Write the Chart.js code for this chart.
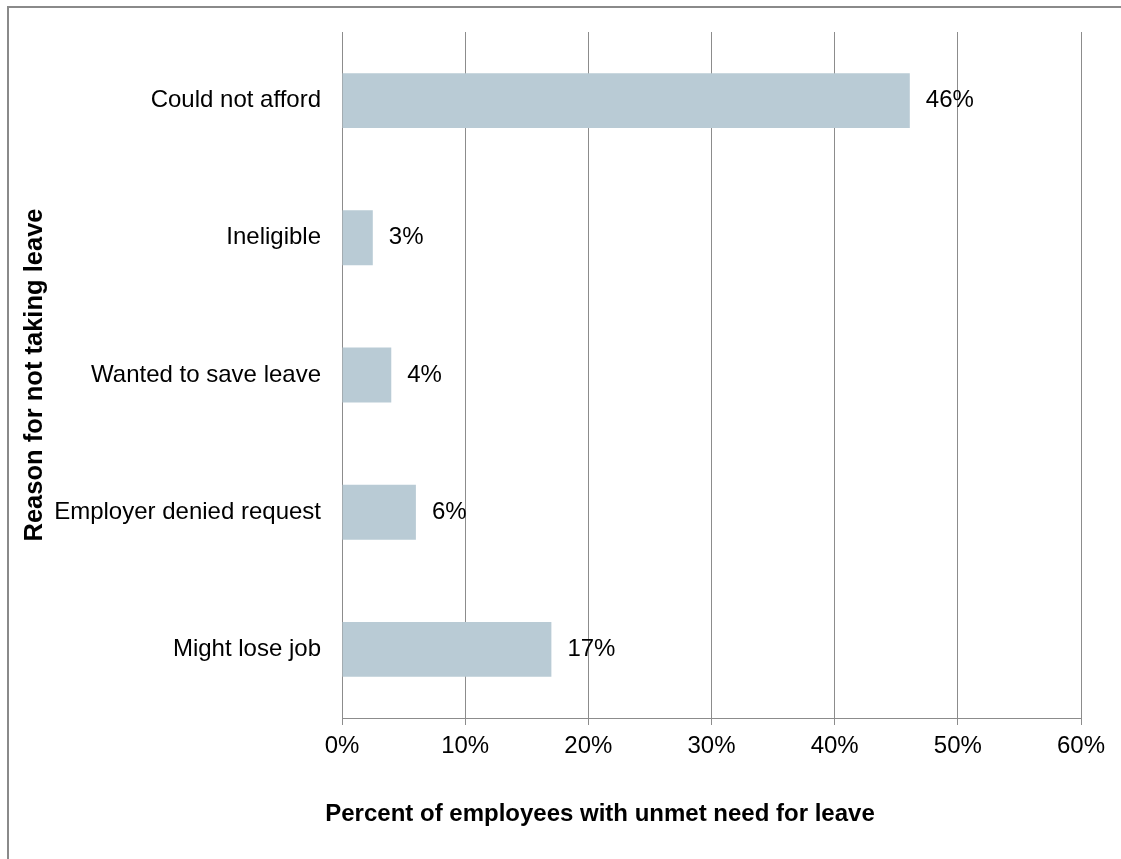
<!DOCTYPE html>
<html>
<head>
<meta charset="utf-8">
<script src="https://cdn.jsdelivr.net/npm/chart.js@4/dist/chart.umd.min.js"></script>
<style>
  html, body { margin: 0; padding: 0; background: #fff; overflow: hidden; }
  #frame {
    position: absolute; left: 7px; top: 6px; width: 1200px; height: 900px;
    border-top: 2px solid #8a8a8a; border-left: 2px solid #8a8a8a;
  }
  #wrap { position: absolute; left: 0; top: 0; width: 1121px; height: 859px; }
</style>
</head>
<body>
<div id="frame"></div>
<div id="wrap"><canvas id="c"></canvas></div>
<script>
// Reasons employees gave for not taking needed leave
const reasons = ['Could not afford', 'Ineligible', 'Wanted to save leave', 'Employer denied request', 'Might lose job'];
const sharePct = [46.1, 2.5, 4.0, 6.0, 17.0];
const xTickValues = [0, 10, 20, 30, 40, 50, 60];
const xTitle = 'Percent of employees with unmet need for leave';
const yTitle = 'Reason for not taking leave';

const FONT = '"Liberation Sans", Arial, sans-serif';
const GRID = '#8c8c8c';
const BAR = '#b9cbd5';

// Percentage labels at the end of each bar
const valueLabels = {
  id: 'valueLabels',
  afterDatasetsDraw(chart) {
    const { ctx } = chart;
    const meta = chart.getDatasetMeta(0);
    ctx.save();
    ctx.font = '24px ' + FONT;
    ctx.fillStyle = '#000';
    ctx.textAlign = 'left';
    ctx.textBaseline = 'middle';
    meta.data.forEach((bar, i) => {
      ctx.fillText(Math.round(sharePct[i]) + '%', bar.x + 16, bar.y);
    });
    ctx.restore();
  }
};

// Axis titles (x title centred under the whole figure, y title rotated at the far left)
const axisTitles = {
  id: 'axisTitles',
  afterDraw(chart) {
    const { ctx, chartArea } = chart;
    ctx.save();
    ctx.fillStyle = '#000';
    ctx.textAlign = 'center';
    ctx.textBaseline = 'alphabetic';
    ctx.font = 'bold 24px ' + FONT;
    ctx.fillText(xTitle, 600, 821);
    ctx.font = 'bold 25.5px ' + FONT;
    ctx.translate(42, (chartArea.top + chartArea.bottom) / 2);
    ctx.rotate(-Math.PI / 2);
    ctx.fillText(yTitle, 0, 0);
    ctx.restore();
  }
};

new Chart(document.getElementById('c'), {
  type: 'bar',
  data: {
    labels: reasons,
    datasets: [{
      data: sharePct,
      backgroundColor: BAR,
      borderWidth: 0,
      categoryPercentage: 1,
      barPercentage: 0.4
    }]
  },
  options: {
    indexAxis: 'y',
    responsive: true,
    maintainAspectRatio: false,
    animation: false,
    layout: { padding: { top: 32, right: 40, left: 0, bottom: 0 } },
    plugins: { legend: { display: false }, tooltip: { enabled: false }, title: { display: false } },
    scales: {
      x: {
        type: 'linear',
        min: xTickValues[0],
        max: xTickValues[xTickValues.length - 1],
        afterBuildTicks(scale) { scale.ticks = xTickValues.map(v => ({ value: v })); },
        afterFit(scale) { scale.height = 141; },
        ticks: {
          callback: v => v + '%',
          color: '#000',
          font: { family: FONT, size: 24 },
          padding: 7,
          maxRotation: 0
        },
        grid: { color: GRID, lineWidth: 1, tickLength: 7, drawTicks: true },
        border: { display: true, color: GRID, width: 1 }
      },
      y: {
        afterFit(scale) {
          scale.width = 342;
          scale.paddingTop = 0;
          scale.paddingBottom = 0;
        },
        ticks: {
          color: '#000',
          font: { family: FONT, size: 24 },
          padding: 21
        },
        grid: { display: false, drawTicks: false },
        border: { display: true, color: GRID, width: 1 }
      }
    }
  },
  plugins: [valueLabels, axisTitles]
});
</script>
</body>
</html>
